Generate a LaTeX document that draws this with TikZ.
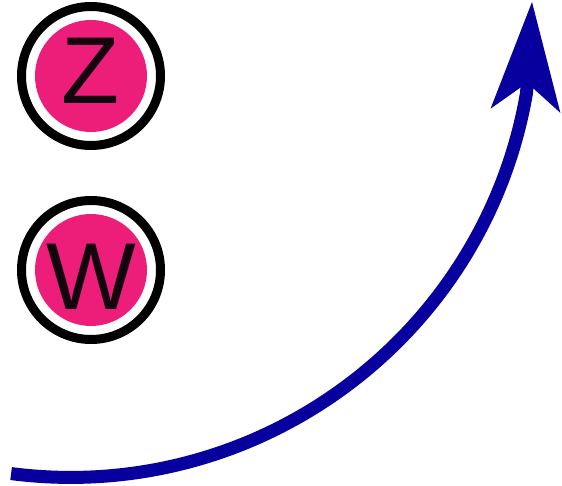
\documentclass[tikz,border=0pt]{standalone}
\usepackage{fontspec}
\setmainfont{Liberation Sans}
\usetikzlibrary{arrows.meta}
\definecolor{ballpink}{RGB}{236,30,121}
\definecolor{arrowblue}{RGB}{8,0,158}
\definecolor{letterink}{RGB}{20,4,14}
\tikzset{
  ball/.style={circle, inner sep=0pt, minimum size=139pt, draw=black,
    line width=9pt, fill=white, text=letterink,
    font=\fontsize{95}{95}\selectfont,
    path picture={\fill[ballpink] (path picture bounding box.center) circle (56pt);}},
  flow/.style={draw=arrowblue, line width=13pt, line join=round,
    -{Stealth[length=109pt, width=70pt, inset=28pt, line width=0pt]}}
}
\begin{document}
\begin{tikzpicture}[x=1pt,y=1pt]
  \useasboundingbox (0,0) rectangle (562,486);
  \node[ball, text depth=10pt] (z) at (91,410) {Z};
  \node[ball, text height=80pt] (w) at (91,216) {W};
  \coordinate (start) at (11.1,12.4);
  \coordinate (tip) at (532,484);
  \draw[flow] (start) arc[start angle=262.66, end angle=350.26, radius=463pt] -- (tip);
\end{tikzpicture}
\end{document}
